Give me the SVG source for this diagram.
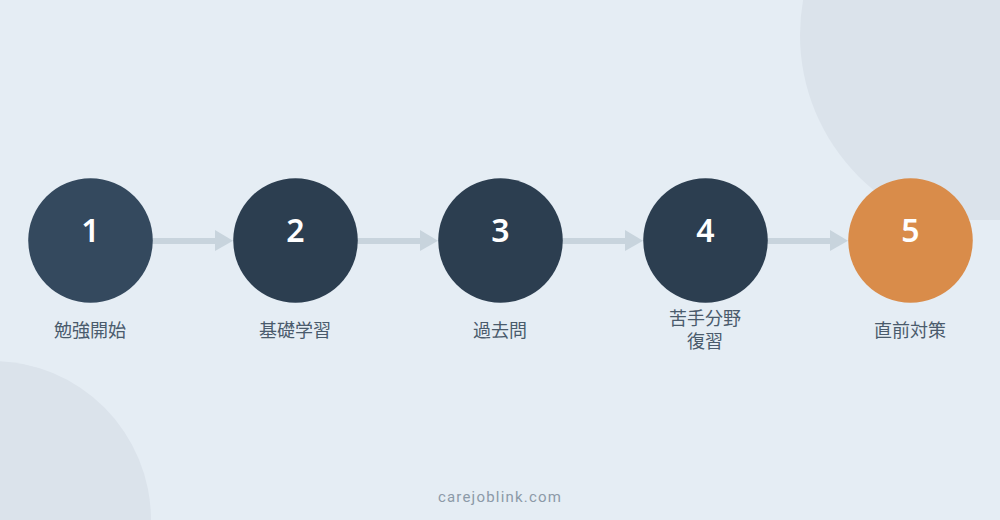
<svg xmlns="http://www.w3.org/2000/svg" width="1000" height="520" viewBox="0 0 1000 520">
  <style>
    .num { font-family: "Noto Sans", "Inter", "Liberation Sans", sans-serif; font-size: 32px; font-weight: 600; fill: #ffffff; text-anchor: middle; }
    .lbl { font-family: "Noto Sans CJK JP", "Noto Sans", sans-serif; font-size: 18px; fill: #4a5b6c; text-anchor: middle; }
    .dark { fill: #2c3e50; }
    .bg-deco { fill: #dbe3eb; }
    .conn line { stroke: #c8d4dd; stroke-width: 6; }
    .conn polygon { fill: #c8d4dd; }
    .foot { font-family: "Roboto", "Noto Sans", sans-serif; font-size: 15px; fill: #8c9aa8; text-anchor: middle; letter-spacing: 1.2px; }
  </style>
  <defs>
    <clipPath id="clipTop">
      <rect x="0" y="0" width="1000" height="220"/>
    </clipPath>
  </defs>
  <rect x="0" y="0" width="1000" height="520" fill="#e5edf4"/>
  <g id="background">
    <circle class="bg-deco" cx="1000" cy="35" r="200" clip-path="url(#clipTop)"/>
    <circle class="bg-deco" cx="-8" cy="520" r="159"/>
  </g>
  <g id="connectors" class="conn">
    <line x1="152" y1="241" x2="216" y2="241"/>
    <polygon points="215,230 233,240.7 215,251"/>
    <line x1="357" y1="241" x2="421" y2="241"/>
    <polygon points="420,230 438,240.7 420,251"/>
    <line x1="562" y1="241" x2="626" y2="241"/>
    <polygon points="625,230 643,240.7 625,251"/>
    <line x1="767" y1="241" x2="831" y2="241"/>
    <polygon points="830,230 848,240.7 830,251"/>
  </g>
  <g id="node1">
    <circle cx="90.5" cy="240.5" r="62.3" fill="#34495e"/>
    <text class="num" x="90.5" y="242">1</text>
    <text class="lbl" x="90" y="336.5">勉強開始</text>
  </g>
  <g id="node2">
    <circle class="dark" cx="295.5" cy="240.5" r="62.3"/>
    <text class="num" x="295.5" y="242">2</text>
    <text class="lbl" x="295" y="336.5">基礎学習</text>
  </g>
  <g id="node3">
    <circle class="dark" cx="500.5" cy="240.5" r="62.3"/>
    <text class="num" x="500.5" y="242">3</text>
    <text class="lbl" x="500" y="336.5">過去問</text>
  </g>
  <g id="node4">
    <circle class="dark" cx="705.5" cy="240.5" r="62.3"/>
    <text class="num" x="705.5" y="242">4</text>
    <text class="lbl" x="705" y="324.5"><tspan x="705" y="324.5">苦手分野</tspan><tspan x="705" y="347.5">復習</tspan></text>
  </g>
  <g id="node5">
    <circle cx="910.5" cy="240.5" r="62.3" fill="#d98c4a"/>
    <text class="num" x="910.5" y="242">5</text>
    <text class="lbl" x="910" y="336.5">直前対策</text>
  </g>
  <text class="foot" x="500" y="501.5">carejoblink.com</text>
</svg>
